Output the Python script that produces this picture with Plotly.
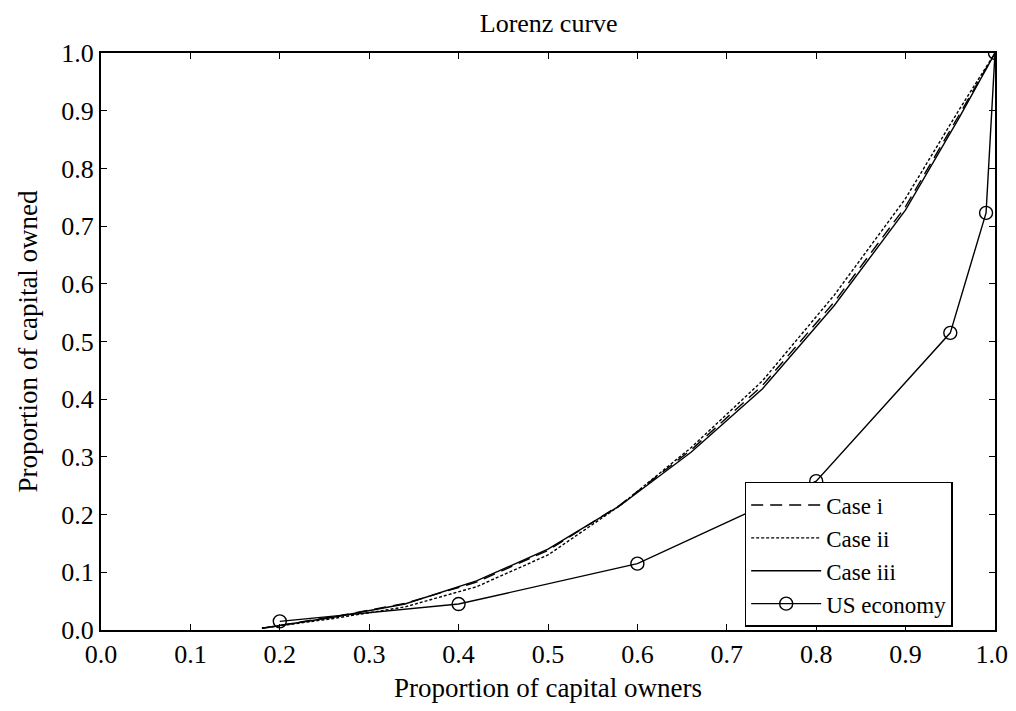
import plotly.graph_objects as go

# Lorenz curves (model cases)
case_x = [0.18, 0.26, 0.34, 0.42, 0.50, 0.58, 0.66, 0.74, 0.82, 0.90, 0.96, 1.0]
case_i_y = [0.003, 0.023, 0.046, 0.083, 0.138, 0.216, 0.312, 0.424, 0.568, 0.734, 0.893, 1.0]
case_ii_y = [0.003, 0.020, 0.040, 0.075, 0.130, 0.215, 0.316, 0.432, 0.580, 0.748, 0.902, 1.0]
case_iii_y = [0.003, 0.022, 0.045, 0.085, 0.140, 0.215, 0.308, 0.418, 0.562, 0.728, 0.888, 1.0]

# US economy data
us_x = [0.2, 0.4, 0.6, 0.8, 0.95, 0.99, 1.0]
us_y = [0.015, 0.045, 0.115, 0.258, 0.515, 0.723, 1.0]

x_ticks = [0.0, 0.1, 0.2, 0.3, 0.4, 0.5, 0.6, 0.7, 0.8, 0.9, 1.0]
x_tick_labels = ["0.0", "0.1", "0.2", "0.3", "0.4", "0.5", "0.6", "0.7", "0.8", "0.9",
                 "1.0\u00a0"]
y_ticks = [0.0, 0.1, 0.2, 0.3, 0.4, 0.5, 0.6, 0.7, 0.8, 0.9, 1.0]

FONT = "Liberation Serif"
fig = go.Figure()
fig.add_trace(go.Scatter(x=case_x, y=case_i_y, mode="lines", name="Case i",
                         line=dict(color="black", width=1.4, dash="12px,7px")))
fig.add_trace(go.Scatter(x=case_x, y=case_ii_y, mode="lines", name="Case ii",
                         line=dict(color="black", width=1.4, dash="3px,2px")))
fig.add_trace(go.Scatter(x=case_x, y=case_iii_y, mode="lines", name="Case iii",
                         line=dict(color="black", width=1.4)))
fig.add_trace(go.Scatter(x=us_x, y=us_y, mode="lines+markers", name="US economy",
                         line=dict(color="black", width=1.4),
                         marker=dict(symbol="circle-open", size=13,
                                     color="black", line=dict(width=1.4))))

axis_common = dict(range=[0, 1], showgrid=False, zeroline=False, automargin=False,
                   showline=True, linecolor="black", linewidth=2, mirror="ticks",
                   ticks="inside", ticklen=6, tickcolor="black", tickwidth=1,
                   ticklabeloverflow="allow",
                   tickfont=dict(family=FONT, size=26, color="black"))

fig.update_layout(
    width=1005, height=695,
    paper_bgcolor="white", plot_bgcolor="white",
    margin=dict(l=93, r=18, t=45, b=73, autoexpand=False),
    title=dict(text="Lorenz curve", xref="container", x=0.538, xanchor="center",
               yref="container", y=0.978, yanchor="middle",
               font=dict(family=FONT, size=26, color="black")),
    xaxis=dict(axis_common, tickvals=x_ticks, ticktext=x_tick_labels,
               title=dict(text="Proportion of capital owners", standoff=12,
                          font=dict(family=FONT, size=27, color="black"))),
    yaxis=dict(axis_common, tickvals=y_ticks, tickformat=".1f",
               title=dict(text="Proportion of capital owned", standoff=16,
                          font=dict(family=FONT, size=27, color="black"))),
    legend=dict(x=0.72, y=0.2565, xanchor="left", yanchor="top",
                bgcolor="white", bordercolor="black", borderwidth=1.5,
                font=dict(family=FONT, size=23, color="black"),
                tracegroupgap=0, itemwidth=70),
    showlegend=True,
)
fig.write_html("out.html")
